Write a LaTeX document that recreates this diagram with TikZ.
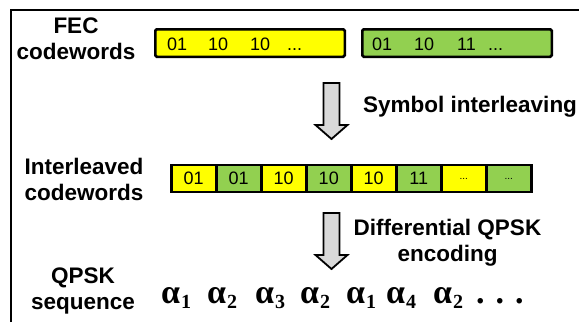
\documentclass[tikz,border=0pt]{standalone}
\usepackage{fontspec}
\setmainfont{Liberation Sans}
\newfontfamily\symserif{Liberation Serif}
\definecolor{cwyellow}{HTML}{FFFF00}
\definecolor{cwgreen}{HTML}{92D050}
\definecolor{arrowgray}{HTML}{D9D9D9}
\tikzset{
  lbl/.style={font=\bfseries\fontsize{22.5}{26}\selectfont, align=center, inner sep=0pt},
  bits/.style={font=\fontsize{18}{20}\selectfont, inner sep=0pt, anchor=base west},
  wordbox/.style={draw, line width=2.5pt, rounded corners=1.5pt, minimum width=189.5pt, minimum height=27.5pt, inner sep=0pt},
  cell/.style={draw, line width=2.5pt, minimum width=45pt, minimum height=27pt, inner sep=0pt, font=\fontsize{18}{20}\selectfont},
  ycell/.style={cell, fill=cwyellow},
  gcell/.style={cell, fill=cwgreen},
  dotcell/.style={font=\fontsize{10}{12}\selectfont},
  blockarrow/.style={draw, line width=1.8pt, fill=arrowgray, line join=miter},
  sym/.style={font=\symserif\bfseries\fontsize{34}{36}\selectfont, inner sep=0pt, anchor=base west},
}
\newcommand{\subidx}[1]{\hspace{1pt}\raisebox{-5pt}{\fontsize{20}{22}\selectfont\symserif #1}}
\begin{document}
\begin{tikzpicture}[x=1pt,y=-1pt]
  \useasboundingbox (0,0) rectangle (579,322);
  % frame lines
  \draw[line width=2pt] (11,322) -- (11,10) -- (579,10);

  % FEC codewords row
  \node[lbl, anchor=base] (fec) at (76,59) {FEC\\codewords};
  \node[wordbox, fill=cwyellow] (cwA) at (250,43) {};
  \node[wordbox, fill=cwgreen] (cwB) at (457,43) {};
  \node[bits] at (167,50) {01};
  \node[bits] at (208,50) {10};
  \node[bits] at (250,50) {10};
  \node[bits] at (287,50) {...};
  \node[bits] at (372,50) {01};
  \node[bits] at (414,50) {10};
  \node[bits] at (457,50) {11};
  \node[bits] at (488,50) {...};

  % interleaving arrow
  \draw[blockarrow] (323.5,83) -- (339.5,83) -- (339.5,125) -- (347.5,125) -- (331.5,139) -- (315.5,125) -- (323.5,125) -- cycle;
  \node[lbl, anchor=base west] (il) at (363,112) {Symbol interleaving};

  % interleaved codewords row
  \node[lbl, anchor=base] (ilw) at (84,200) {Interleaved\\codewords};
  \node[ycell] (c0) at (193.75,178.5) {01};
  \node[gcell] (c1) at (238.75,178.5) {01};
  \node[ycell] (c2) at (283.75,178.5) {10};
  \node[gcell] (c3) at (328.75,178.5) {10};
  \node[ycell] (c4) at (373.75,178.5) {10};
  \node[gcell] (c5) at (418.75,178.5) {11};
  \node[ycell, dotcell] (c6) at (463.75,178.5) {...};
  \node[gcell, dotcell] (c7) at (508.75,178.5) {...};

  % differential encoding arrow
  \draw[blockarrow] (323.5,213) -- (339.5,213) -- (339.5,255) -- (347.5,255) -- (331.5,269) -- (315.5,255) -- (323.5,255) -- cycle;
  \node[lbl, anchor=base] (dq) at (447.5,261) {Differential QPSK\\encoding};

  % QPSK sequence
  \node[lbl, anchor=base] (qs) at (83,309) {QPSK\\sequence};
  \node[sym] (s1) at (161,303) {α\subidx{1}};
  \node[sym] (s2) at (207,303) {α\subidx{2}};
  \node[sym] (s3) at (255,303) {α\subidx{3}};
  \node[sym] (s4) at (300,303) {α\subidx{2}};
  \node[sym] (s5) at (346,303) {α\subidx{1}};
  \node[sym] (s6) at (386,303) {α\subidx{4}};
  \node[sym] (s7) at (433,303) {α\subidx{2}};
  \node[sym] (s8) at (476,303) {.\hspace{11pt}.\hspace{11pt}.};
\end{tikzpicture}
\end{document}
